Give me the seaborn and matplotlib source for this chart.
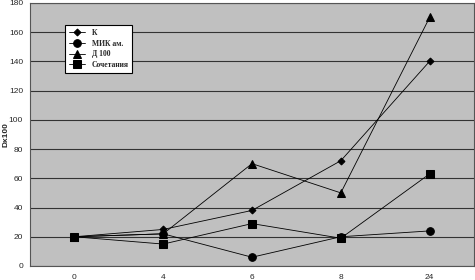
import pandas as pd
import numpy as np
import matplotlib.pyplot as plt
import seaborn as sns

hours = ["0", "4", "6", "8", "24"]
k_vals = [20, 25, 38, 72, 140]
mik_vals = [20, 22, 6, 20, 24]
d100_vals = [20, 22, 70, 50, 170]
soch_vals = [20, 15, 29, 19, 63]
series_names = ["К", "МИК ам.", "Д 100", "Сочетания"]

df = pd.DataFrame({"hour": hours * 4,
                   "val": k_vals + mik_vals + d100_vals + soch_vals,
                   "series": np.repeat(series_names, len(hours))})
df["pos"] = df["hour"].map({h: i for i, h in enumerate(hours)})

sns.set_style("white")
plt.rcParams['font.family'] = ['Liberation Sans', 'DejaVu Sans']

fig = plt.figure(figsize=(4.75, 2.8), dpi=100)
ax = fig.add_axes([0.063, 0.05, 0.935, 0.94])
ax.set_facecolor("#c0c0c0")

markers = {"К": "D", "МИК ам.": "o", "Д 100": "^", "Сочетания": "s"}
sizes = {"К": 3.5, "МИК ам.": 5.5, "Д 100": 5.5, "Сочетания": 5.5}
for name in series_names:
    sub = df[df["series"] == name]
    sns.lineplot(data=sub, x="pos", y="val", ax=ax, color="black", lw=0.6,
                 marker=markers[name], markersize=sizes[name], markeredgecolor="black",
                 label=name)

ax.set_ylim(0, 180)
ax.set_xlim(-0.5, 4.5)
ax.set_yticks(range(0, 181, 20))
ax.yaxis.grid(True, color="#333333", lw=0.8)
ax.set_axisbelow(True)
ax.set_xticks(range(len(hours)))
ax.set_xticklabels(hours)
ax.set_xticks(np.arange(-0.5, 4.6, 1), minor=True)
ax.tick_params(axis="x", which="major", length=0, labelsize=6, pad=6)
ax.tick_params(axis="x", which="minor", length=3, direction="out", color="#555555")
ax.tick_params(axis="y", length=3, direction="out", labelsize=6, pad=2, color="#555555")
ax.set_xlabel("")
ax.set_ylabel("Dx100", fontsize=6, fontweight="bold")
ax.yaxis.set_label_coords(-0.045, 0.5)
for s in ax.spines.values():
    s.set_color("#555555")
    s.set_linewidth(0.8)

leg = ax.legend(loc="upper left", bbox_to_anchor=(0.07, 0.93), fontsize=5.5,
                frameon=True, fancybox=False, edgecolor="black", facecolor="white",
                framealpha=1, borderpad=0.5, labelspacing=0.35, handlelength=2.2,
                prop={"family": ["Liberation Serif", "DejaVu Serif"], "weight": "bold", "size": 5.5})
leg.get_frame().set_linewidth(0.8)

fig.savefig("out.png", dpi=100)
